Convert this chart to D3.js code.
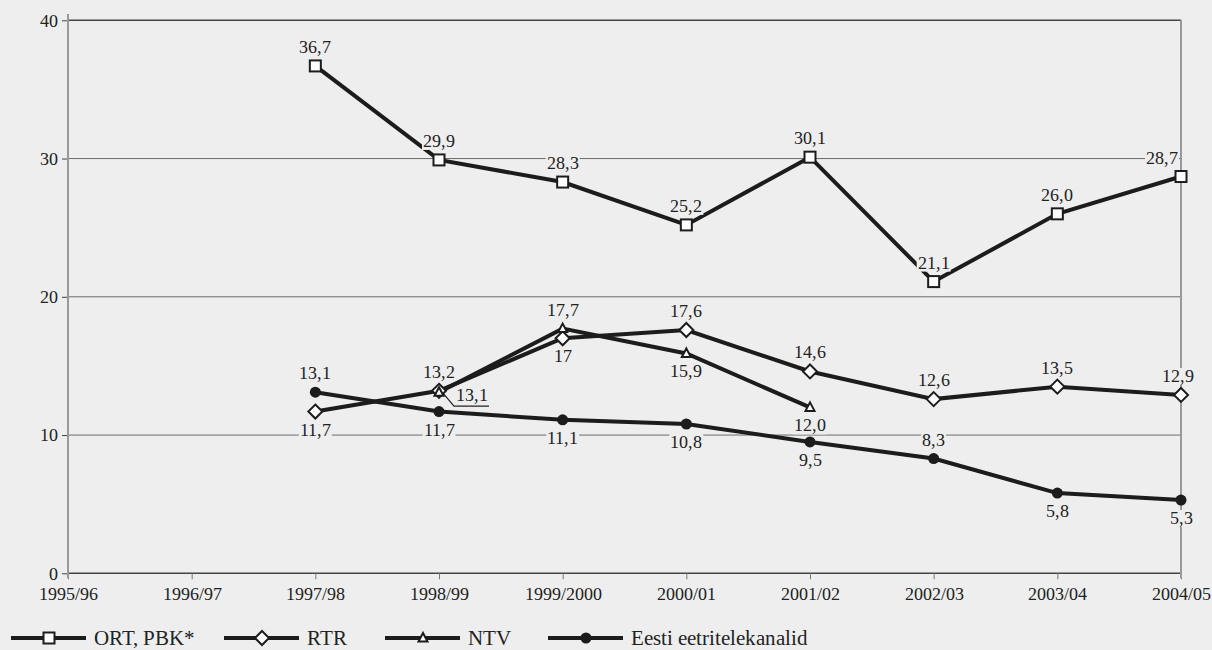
<!DOCTYPE html>
<html>
<head>
<meta charset="utf-8">
<script src="https://cdn.jsdelivr.net/npm/d3@7"></script>
<style>
  @font-face {
    font-family: "ChartSerif";
    src: local("Liberation Serif"), local("LiberationSerif"), local("LiberationSerif-Regular"),
         local("Tinos"), local("DejaVu Serif"), local("DejaVuSerif"), local("Times New Roman");
  }
  html, body { margin: 0; padding: 0; background: #eeeeee; }
  svg { display: block; }
  svg text { font-family: "ChartSerif", "Liberation Serif", "DejaVu Serif", serif !important; fill: #222; }
</style>
</head>
<body>
<svg id="chart" width="1212" height="650"></svg>
<script>
// Seasons on the horizontal axis
const periods = ["1995/96", "1996/97", "1997/98", "1998/99", "1999/2000",
                 "2000/01", "2001/02", "2002/03", "2003/04", "2004/05"];
const yTicks = [0, 10, 20, 30, 40];

// Audience share per channel group (null = no data for that season)
const ortValues   = [null, null, 36.7, 29.9, 28.3, 25.2, 30.1, 21.1, 26.0, 28.7];
const rtrValues   = [null, null, 11.7, 13.2, 17, 17.6, 14.6, 12.6, 13.5, 12.9];
const ntvValues   = [null, null, null, 13.1, 17.7, 15.9, 12.0, null, null, null];
const eestiValues = [null, null, 13.1, 11.7, 11.1, 10.8, 9.5, 8.3, 5.8, 5.3];

const seriesNames = ["ORT, PBK*", "RTR", "NTV", "Eesti eetritelekanalid"];

// Where each value label sits relative to its point: a = above, b = below
const labelSide = {
  "ORT, PBK*":              ["", "", "a", "a", "a", "a", "a", "a", "a", "a"],
  "RTR":                    ["", "", "b", "a", "b", "a", "a", "a", "a", "a"],
  "NTV":                    ["", "", "", "n", "a", "b", "b", "", "", ""],
  "Eesti eetritelekanalid": ["", "", "a", "b", "b", "b", "b", "a", "b", "b"]
};

const series = [
  { name: seriesNames[0], values: ortValues,   marker: "square" },
  { name: seriesNames[1], values: rtrValues,   marker: "diamond" },
  { name: seriesNames[2], values: ntvValues,   marker: "triangle" },
  { name: seriesNames[3], values: eestiValues, marker: "dot" }
];

const FONT = "ChartSerif, 'Liberation Serif', 'DejaVu Serif', serif";
const svg = d3.select("#chart");
const ink = "#1c1c1c";

const x = d3.scalePoint().domain(periods).range([68, 1181]);
const y = d3.scaleLinear().domain([0, 40]).range([573.3, 20.3]);

// Horizontal gridlines
svg.append("g").selectAll("line")
  .data(yTicks)
  .join("line")
  .attr("x1", 68).attr("x2", 1181)
  .attr("y1", d => y(d)).attr("y2", d => y(d))
  .attr("stroke", d => (d === 0 || d === 40) ? "#444" : "#6a6a6a")
  .attr("stroke-width", d => (d === 0 || d === 40) ? 1.4 : 1);

// Left axis with tick labels
const yAxis = svg.append("g")
  .attr("transform", "translate(68,0)")
  .call(d3.axisLeft(y).tickValues(yTicks).tickSize(6).tickPadding(4));
yAxis.attr("font-family", FONT);
yAxis.select(".domain").remove();
yAxis.selectAll(".tick line").attr("stroke", "#444");
yAxis.selectAll(".tick text")
  .attr("font-size", 18).attr("fill", "#222");

// Bottom axis
const xAxis = svg.append("g")
  .attr("transform", `translate(0,${y(0)})`)
  .call(d3.axisBottom(x).tickSize(6).tickPadding(4));
xAxis.attr("font-family", FONT);
xAxis.select(".domain").remove();
xAxis.selectAll(".tick line").attr("stroke", "#777");
xAxis.selectAll(".tick text")
  .attr("font-size", 18).attr("fill", "#222")
  .attr("dy", "0.95em");

// Vertical frame lines
svg.append("line")
  .attr("x1", 68).attr("x2", 68).attr("y1", 14).attr("y2", y(0) + 5)
  .attr("stroke", "#999").attr("stroke-width", 2);
svg.append("line")
  .attr("x1", 1181).attr("x2", 1181).attr("y1", y(40)).attr("y2", y(0) + 5)
  .attr("stroke", "#999").attr("stroke-width", 2);

// Series lines
const line = d3.line()
  .defined(d => d.v !== null)
  .x(d => x(d.p))
  .y(d => y(d.v));

series.forEach(s => {
  s.points = s.values.map((v, i) => ({ p: periods[i], v, i }));
  svg.append("path")
    .datum(s.points)
    .attr("fill", "none")
    .attr("stroke", ink)
    .attr("stroke-width", 4)
    .attr("stroke-linejoin", "miter")
    .attr("d", line);
});

// Marker shapes
function drawMarker(g, type, cx, cy) {
  if (type === "square") {
    g.append("rect")
      .attr("x", cx - 5.5).attr("y", cy - 5.5)
      .attr("width", 11).attr("height", 11)
      .attr("fill", "#fff").attr("stroke", ink).attr("stroke-width", 2);
  } else if (type === "diamond") {
    g.append("path")
      .attr("d", `M${cx},${cy - 7}L${cx + 7},${cy}L${cx},${cy + 7}L${cx - 7},${cy}Z`)
      .attr("fill", "#fff").attr("stroke", ink).attr("stroke-width", 2);
  } else if (type === "triangle") {
    g.append("path")
      .attr("d", `M${cx},${cy - 5}L${cx + 4.5},${cy + 3.5}L${cx - 4.5},${cy + 3.5}Z`)
      .attr("fill", "#fff").attr("stroke", ink).attr("stroke-width", 2);
  } else {
    g.append("circle")
      .attr("cx", cx).attr("cy", cy).attr("r", 5.5)
      .attr("fill", ink);
  }
}

const markers = svg.append("g");
series.forEach(s => {
  s.points.filter(d => d.v !== null)
    .forEach(d => drawMarker(markers, s.marker, x(d.p), y(d.v)));
});

// Value labels (decimal comma; a whole 17 is printed as "17")
const fmt = (name, v) =>
  (name === "RTR" && v === 17) ? "17" : d3.format(".1f")(v).replace(".", ",");

const labels = svg.append("g").attr("font-family", FONT);
function addLabel(txt, lx, ly, anchor) {
  const g = labels.append("g");
  const t = g.append("text")
    .attr("x", lx).attr("y", ly)
    .attr("text-anchor", anchor)
    .attr("font-size", 18)
    .text(txt);
  const bb = t.node().getBBox();
  g.insert("rect", "text")
    .attr("x", bb.x - 1).attr("y", bb.y + 2)
    .attr("width", bb.width + 2).attr("height", bb.height - 3)
    .attr("fill", "#eeeeee");
  return bb;
}

series.forEach(s => {
  s.points.filter(d => d.v !== null).forEach(d => {
    const px = x(d.p), py = y(d.v);
    const side = labelSide[s.name][d.i];
    const txt = fmt(s.name, d.v);
    const last = d.i === periods.length - 1;
    if (side === "a") {
      if (last && s.name !== "RTR") {
        addLabel(txt, px - 3, py - 13, "end");
      } else if (last) {
        addLabel(txt, px - 3, py - 13, "middle");
      } else {
        addLabel(txt, px, py - 13, "middle");
      }
    } else if (side === "b") {
      addLabel(txt, px, py + 24, "middle");
    } else if (side === "n") {
      // label pushed to the side with a leader and underline
      const bb = addLabel(txt, px + 17, py + 9, "start");
      labels.append("path")
        .attr("d", `M${px + 4},${py + 1}L${px + 15},${py + 14}L${bb.x + bb.width + 1},${py + 14}`)
        .attr("fill", "none").attr("stroke", "#222").attr("stroke-width", 1.2);
    }
  });
});

// Legend
const legendX = [11, 224, 385, 548];
const legend = svg.append("g").attr("font-family", FONT);
series.forEach((s, i) => {
  const lx = legendX[i], ly = 638;
  const g = legend.append("g");
  g.append("text")
    .attr("x", lx + 83).attr("y", ly + 7)
    .attr("font-size", 21)
    .text(s.name);
  g.append("line")
    .attr("x1", lx).attr("x2", lx + 75).attr("y1", ly).attr("y2", ly)
    .attr("stroke", ink).attr("stroke-width", 4);
  drawMarker(g, s.marker, lx + 38, ly);
});
</script>
</body>
</html>
